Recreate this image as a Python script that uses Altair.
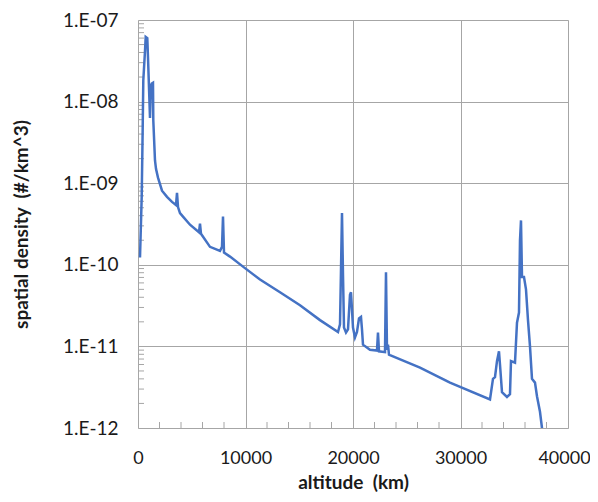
import altair as alt
import pandas as pd

altitude = [186, 344, 437, 493, 651, 716, 865, 930, 1023, 1116, 1209, 1274, 1395, 1423,
            1581, 1674, 1860, 2233, 2698, 3163, 3535, 3628, 3721, 3907, 4186, 4837,
            5674, 5767, 5860, 6698, 7628, 7814, 7907, 8000, 8558, 9767, 11349, 13209,
            15070, 16930, 18604, 18790, 18883, 18976, 19069, 19162, 19348, 19534, 19720,
            19813, 19906, 19999, 20185, 20371, 20557, 20743, 20836, 20929, 21580, 22231,
            22324, 22417, 22976, 23069, 23162, 23255, 23348, 23441, 26232, 29022, 32743,
            33022, 33208, 33394, 33580, 33673, 33859, 34324, 34603, 34696, 35069, 35255,
            35441, 35534, 35627, 35720, 35906, 36092, 36278, 36464, 36650, 36929, 37115,
            37394, 37580, 37673]

density = [1.23e-10, 6.76e-10, 4.79e-09, 1.82e-08, 4.17e-08, 6.2e-08, 6.0e-08, 3.47e-08,
           1.48e-08, 6.3e-09, 1.58e-08, 1.66e-08, 1.7e-08, 5.9e-09,
           1.9e-09, 1.5e-09, 1.17e-09, 8.1e-10, 6.8e-10, 5.9e-10, 5.4e-10, 7.6e-10, 5.1e-10,
           4.3e-10, 3.9e-10, 3.1e-10,
           2.5e-10, 3.2e-10, 2.4e-10, 1.66e-10, 1.48e-10, 1.66e-10, 3.9e-10, 1.41e-10,
           1.26e-10, 9.5e-11, 6.6e-11, 4.6e-11,
           3.2e-11, 2.1e-11, 1.5e-11, 1.86e-11, 8.7e-11, 4.3e-10, 7.6e-11, 1.7e-11,
           1.48e-11, 1.62e-11, 4.3e-11,
           4.6e-11, 2.8e-11, 1.7e-11, 1.29e-11, 1.5e-11, 2.2e-11, 2.3e-11, 1.62e-11,
           1.05e-11, 9.1e-12, 8.9e-12,
           1.48e-11, 8.7e-12, 8.5e-12, 8.1e-11, 9.1e-12, 1.05e-11, 7.9e-12, 7.8e-12,
           5.5e-12, 3.6e-12, 2.24e-12,
           4.0e-12, 4.2e-12, 6.6e-12, 8.7e-12, 6.0e-12, 2.75e-12, 2.4e-12, 2.6e-12,
           6.6e-12, 6.3e-12, 1.95e-11,
           2.6e-11, 2.0e-10, 3.5e-10, 7.1e-11, 7.1e-11, 5.0e-11, 2.1e-11, 1.0e-11,
           4.0e-12, 3.6e-12, 2.45e-12,
           1.58e-12, 1.0e-12, 7.1e-13]

x_ticks = [0, 10000, 20000, 30000, 40000]
y_ticks = [1e-12, 1e-11, 1e-10, 1e-9, 1e-8, 1e-7]

df = pd.DataFrame({"altitude": altitude, "density": density})

W, H = 430, 408
FONT = "Lato"
TXT = "#1a1a1a"
GRID = "#a6a6a6"

xscale = alt.Scale(domain=[0, 40000], nice=False, zero=False)
yscale = alt.Scale(type="log", domain=[1e-12, 1e-7], nice=False)

label_expr = ("'1.E-' + (abs(round(log(datum.value)/LN10)) < 10 ? '0' : '') + "
              "abs(round(log(datum.value)/LN10))")

line = alt.Chart(df).mark_line(color="#4472C4", strokeWidth=2.5, clip=True).encode(
    x=alt.X("altitude:Q", scale=xscale,
            axis=alt.Axis(values=x_ticks, format="d", title="altitude\u00a0\u00a0(km)",
                          grid=True, gridColor=GRID, gridWidth=1, domain=False,
                          ticks=False, labelPadding=21, labelFontSize=18, labelFont=FONT,
                          labelColor=TXT, titleFont=FONT, titleFontSize=19,
                          titleFontWeight="bold", titleColor=TXT, titlePadding=6,
                          labelFlush=False,
                          labelOffset={"condition": {"test": "datum.value == 40000",
                                                     "value": -4}, "value": 0})),
    y=alt.Y("density:Q", scale=yscale,
            axis=alt.Axis(values=y_ticks, title="spatial density\u00a0\u00a0(#/km^3)",
                          grid=True, gridColor=GRID, gridWidth=1, domain=False,
                          ticks=False, labelExpr=label_expr, labelPadding=20,
                          labelFontSize=19, labelFont=FONT, labelColor=TXT,
                          titleFont=FONT, titleFontSize=19, titleFontWeight="bold",
                          titleColor=TXT, titlePadding=31)),
)

minor_y = pd.DataFrame({"v": [k * 10.0 ** e for e in range(-12, -7) for k in range(2, 10)]})
ymin = alt.Chart(minor_y).mark_rule(color=GRID, strokeWidth=1).encode(
    y=alt.Y("v:Q", scale=yscale), x=alt.value(0), x2=alt.value(6))

minor_x = pd.DataFrame({"v": [v for v in range(2000, 40000, 2000) if v % 10000 != 0]})
xmin = alt.Chart(minor_x).mark_rule(color=GRID, strokeWidth=1).encode(
    x=alt.X("v:Q", scale=xscale), y=alt.value(H), y2=alt.value(H - 6))

chart = alt.layer(ymin, xmin, line).properties(
    width=W, height=H,
    autosize=alt.AutoSizeParams(type="none"),
    padding={"left": 130, "top": 12, "right": 22, "bottom": 66},
).configure_view(stroke=GRID, strokeWidth=1).configure(background="white")

chart.save("out.html", embed_options={"renderer": "svg", "actions": False})
